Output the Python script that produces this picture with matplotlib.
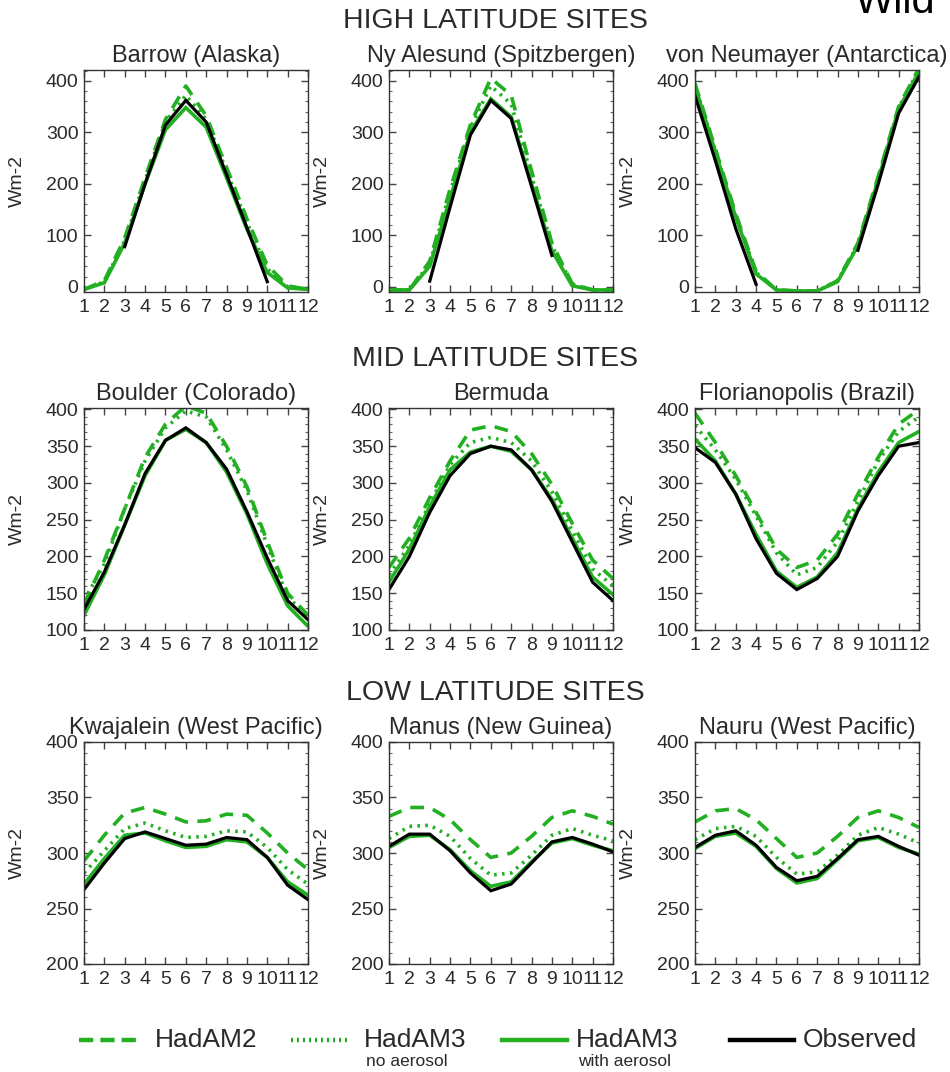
import numpy as np
import matplotlib
matplotlib.use("Agg")
import matplotlib.pyplot as plt
from matplotlib.lines import Line2D
from matplotlib.ticker import MultipleLocator, FixedLocator

plt.rcParams['font.family'] = ['Liberation Sans', 'DejaVu Sans']

nan = np.nan
months = list(range(1, 13))
month_labels = [str(m) for m in months]

# Surface downward shortwave flux (Wm-2), monthly means
barrow_had2 = [-5, 12, 95, 212, 325, 390, 332, 232, 132, 42, 2, -5]
barrow_noaer = [-5, 10, 90, 207, 320, 372, 325, 225, 125, 35, 0, -5]
barrow_aer = [-5, 8, 85, 200, 305, 348, 310, 212, 112, 28, -2, -5]
barrow_obs = [nan, nan, 78, 200, 314, 362, 320, 218, 115, 10, nan, nan]

nyalesund_had2 = [-6, -6, 50, 190, 315, 405, 372, 225, 85, 6, -6, -6]
nyalesund_noaer = [-6, -6, 45, 185, 310, 390, 355, 215, 80, 5, -6, -6]
nyalesund_aer = [-6, -6, 40, 172, 300, 365, 330, 200, 70, 2, -6, -6]
nyalesund_obs = [nan, nan, 11, 155, 295, 362, 327, 195, 61, nan, nan, nan]

neumayer_had2 = [395, 268, 142, 30, -6, -8, -8, 12, 85, 215, 350, 425]
neumayer_noaer = [392, 265, 138, 28, -6, -8, -8, 12, 82, 212, 348, 422]
neumayer_aer = [390, 262, 135, 25, -6, -8, -8, 10, 80, 208, 345, 418]
neumayer_obs = [371, 245, 113, 5, nan, nan, nan, nan, 71, 200, 337, 408]

boulder_had2 = [135, 195, 265, 335, 380, 405, 395, 350, 295, 220, 150, 120]
boulder_noaer = [140, 190, 265, 330, 375, 398, 390, 345, 290, 215, 145, 118]
boulder_aer = [120, 175, 243, 310, 358, 373, 355, 315, 258, 190, 133, 105]
boulder_obs = [128, 179, 243, 313, 358, 375, 355, 319, 261, 198, 140, 114]

bermuda_had2 = [185, 225, 280, 330, 372, 378, 370, 340, 298, 245, 195, 170]
bermuda_noaer = [175, 215, 272, 325, 355, 362, 355, 330, 288, 235, 183, 160]
bermuda_aer = [165, 210, 268, 318, 342, 350, 343, 318, 278, 225, 172, 148]
bermuda_obs = [155, 200, 260, 310, 340, 350, 345, 318, 275, 220, 165, 140]

floripa_had2 = [395, 355, 310, 260, 210, 185, 195, 230, 285, 335, 380, 400]
floripa_noaer = [378, 345, 305, 255, 205, 175, 185, 220, 275, 330, 370, 390]
floripa_aer = [360, 330, 285, 230, 180, 158, 172, 205, 265, 315, 355, 370]
floripa_obs = [348, 328, 285, 224, 177, 155, 170, 200, 262, 310, 350, 355]

kwaj_had2 = [293, 316, 336, 341, 335, 328, 329, 335, 334, 318, 300, 285]
kwaj_noaer = [282, 302, 322, 327, 320, 314, 315, 320, 319, 305, 285, 272]
kwaj_aer = [272, 295, 316, 318, 311, 305, 306, 312, 310, 296, 274, 262]
kwaj_obs = [267, 291, 313, 319, 313, 307, 308, 314, 312, 296, 271, 258]

manus_had2 = [333, 341, 341, 330, 312, 296, 300, 315, 332, 338, 333, 326]
manus_noaer = [313, 324, 325, 315, 295, 280, 282, 298, 316, 322, 316, 311]
manus_aer = [305, 315, 316, 303, 284, 270, 274, 292, 309, 313, 307, 302]
manus_obs = [306, 317, 317, 302, 282, 266, 272, 291, 310, 314, 308, 301]

nauru_had2 = [328, 338, 340, 330, 313, 296, 300, 315, 332, 338, 332, 323]
nauru_noaer = [312, 322, 324, 315, 296, 281, 283, 298, 316, 323, 317, 309]
nauru_aer = [304, 315, 318, 306, 286, 273, 277, 294, 311, 314, 305, 299]
nauru_obs = [305, 316, 320, 307, 287, 275, 279, 295, 312, 315, 306, 298]

site_names = [
    ["Barrow (Alaska)", "Ny Alesund (Spitzbergen)", "von Neumayer (Antarctica)"],
    ["Boulder (Colorado)", "Bermuda", "Florianopolis (Brazil)"],
    ["Kwajalein (West Pacific)", "Manus (New Guinea)", "Nauru (West Pacific)"],
]
site_data = [
    [(barrow_had2, barrow_noaer, barrow_aer, barrow_obs),
     (nyalesund_had2, nyalesund_noaer, nyalesund_aer, nyalesund_obs),
     (neumayer_had2, neumayer_noaer, neumayer_aer, neumayer_obs)],
    [(boulder_had2, boulder_noaer, boulder_aer, boulder_obs),
     (bermuda_had2, bermuda_noaer, bermuda_aer, bermuda_obs),
     (floripa_had2, floripa_noaer, floripa_aer, floripa_obs)],
    [(kwaj_had2, kwaj_noaer, kwaj_aer, kwaj_obs),
     (manus_had2, manus_noaer, manus_aer, manus_obs),
     (nauru_had2, nauru_noaer, nauru_aer, nauru_obs)],
]
section_titles = ["HIGH LATITUDE SITES", "MID LATITUDE SITES", "LOW LATITUDE SITES"]
row_ylim = [(-10, 421), (100, 402), (200, 400)]
row_major = [100, 50, 50]
row_minor = [20, 10, 10]
row_ticks = [[0, 100, 200, 300, 400],
             [100, 150, 200, 250, 300, 350, 400],
             [200, 250, 300, 350, 400]]

legend_labels = ["HadAM2", "HadAM3", "HadAM3", "Observed"]
legend_notes = ["", "no aerosol", "with aerosol", ""]

GREEN = '#22b022'
TXT = '#2a2a2a'
W, H = 950, 1072
LW = 2.6
styles = [
    dict(color=GREEN, lw=LW, ls=(0, (3.8, 2.6))),
    dict(color=GREEN, lw=LW, ls=(0, (0.7, 1.5))),
    dict(color=GREEN, lw=LW, ls='-'),
    dict(color='black', lw=2.3, ls='-'),
]

fig = plt.figure(figsize=(W / 100, H / 100), dpi=100)

col_left = [84, 389, 695]
row_top = [70, 408, 742]
ax_w, ax_h = 224, 222

for r in range(3):
    fig.text(495 / W, 1 - (row_top[r] - 49) / H, section_titles[r],
             ha='center', va='center', fontsize=20.5, color=TXT)
    for c in range(3):
        ax = fig.add_axes([col_left[c] / W, 1 - (row_top[r] + ax_h) / H,
                           ax_w / W, ax_h / H])
        for series, st in zip(site_data[r][c], styles):
            ax.plot(months, series, color=st['color'], lw=st['lw'],
                    linestyle=st['ls'], solid_joinstyle='miter')
        ax.set_xlim(1, 12)
        ax.set_ylim(*row_ylim[r])
        ax.xaxis.set_major_locator(FixedLocator(months))
        ax.set_xticklabels(month_labels)
        ax.yaxis.set_major_locator(FixedLocator(row_ticks[r]))
        ax.yaxis.set_minor_locator(MultipleLocator(row_minor[r]))
        ax.tick_params(axis='both', which='major', direction='in', length=5,
                       width=1, color='#444444', top=True, right=True,
                       labelsize=14, labelcolor=TXT, pad=4)
        ax.tick_params(axis='y', which='minor', direction='in', length=2.5,
                       width=0.8, color='#666666', right=True, left=True)
        ax.tick_params(axis='x', which='major', pad=5)
        for sp in ax.spines.values():
            sp.set_color('#333333')
            sp.set_linewidth(1.0)
        ax.set_title(site_names[r][c], fontsize=17, color=TXT, pad=6)
        ax.set_ylabel("Wm-2", fontsize=14, color=TXT)
        ax.yaxis.set_label_coords(-0.26, 0.5)

# Legend along the bottom
leg_y = 1 - 1040 / H
note_y = 1 - 1062 / H
line_spans = [(79, 136), (291, 350), (502, 567), (730, 794)]
text_x = [155, 364, 576, 803]
leg_styles = [
    dict(color=GREEN, lw=3.2, ls=(0, (3.2, 1.6))),
    dict(color=GREEN, lw=3.2, ls=(0, (0.45, 0.9))),
    dict(color=GREEN, lw=3.2, ls='-'),
    dict(color='black', lw=3.2, ls='-'),
]
for (x0, x1), tx, lab, note, st in zip(line_spans, text_x, legend_labels,
                                        legend_notes, leg_styles):
    fig.add_artist(Line2D([x0 / W, x1 / W], [leg_y, leg_y],
                          transform=fig.transFigure, color=st['color'],
                          lw=st['lw'], linestyle=st['ls']))
    fig.text(tx / W, leg_y, lab, ha='left', va='center', fontsize=19,
             color=TXT)
    if note:
        fig.text((tx + 2) / W, note_y, note, ha='left', va='center',
                 fontsize=12.5, color=TXT)

# Running header at the top right
fig.text(855 / W, 1 - 13 / H, "Wild", ha='left', va='baseline',
         fontsize=30, color='black')

fig.savefig("out.png", dpi=100)
